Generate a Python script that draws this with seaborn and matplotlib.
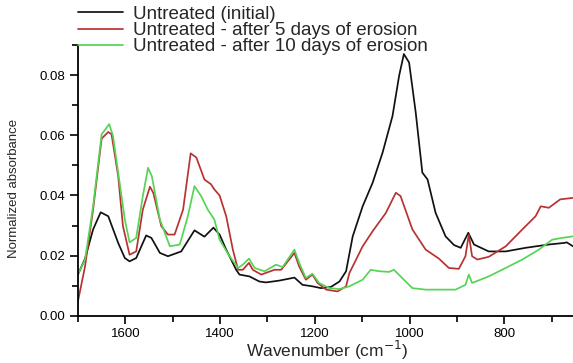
import numpy as np
import pandas as pd
import matplotlib
matplotlib.use("Agg")
import matplotlib.pyplot as plt
import seaborn as sns
from matplotlib.ticker import MultipleLocator
from matplotlib.lines import Line2D

series_names = ["Untreated (initial)",
                "Untreated - after 5 days of erosion",
                "Untreated - after 10 days of erosion"]

wn_initial = [1700, 1685, 1668, 1652, 1636, 1615, 1601, 1591, 1577, 1556, 1545, 1527, 1510,
              1482, 1454, 1433, 1414, 1401, 1387, 1366, 1359, 1338, 1317, 1303, 1275, 1243,
              1226, 1205, 1187, 1166, 1148, 1134, 1120, 1099, 1078, 1057, 1036, 1022, 1012,
              1001, 987, 973, 962, 945, 924, 906, 892, 876, 864, 833, 797, 755, 706, 675,
              668, 655]
ab_initial = [0.0137, 0.0190, 0.0287, 0.0344, 0.0331, 0.0242, 0.0192, 0.0181, 0.0192, 0.0267,
              0.0259, 0.0209, 0.0198, 0.0214, 0.0284, 0.0263, 0.0293, 0.0270, 0.0220, 0.0153,
              0.0137, 0.0131, 0.0114, 0.0111, 0.0117, 0.0127, 0.0103, 0.0098, 0.0092, 0.0096,
              0.0114, 0.0148, 0.0264, 0.0364, 0.0442, 0.0542, 0.0664, 0.0798, 0.0870, 0.0842,
              0.0676, 0.0476, 0.0453, 0.0342, 0.0264, 0.0235, 0.0226, 0.0276, 0.0237, 0.0214,
              0.0214, 0.0226, 0.0237, 0.0242, 0.0244, 0.0231]

wn_5days = [1700, 1685, 1668, 1650, 1636, 1629, 1615, 1605, 1591, 1577, 1563, 1548, 1541,
            1524, 1510, 1496, 1478, 1462, 1450, 1433, 1419, 1412, 1401, 1387, 1373, 1362,
            1352, 1339, 1331, 1313, 1285, 1271, 1243, 1233, 1219, 1205, 1194, 1176, 1152,
            1134, 1127, 1099, 1078, 1050, 1029, 1019, 994, 966, 938, 917, 896, 882, 875,
            868, 857, 833, 797, 762, 734, 723, 706, 682, 655]
ab_5days = [0.0048, 0.0164, 0.0353, 0.0589, 0.0611, 0.0603, 0.0464, 0.0298, 0.0203, 0.0214,
            0.0353, 0.0429, 0.0409, 0.0298, 0.0270, 0.0270, 0.0353, 0.0540, 0.0526, 0.0453,
            0.0437, 0.0420, 0.0400, 0.0331, 0.0220, 0.0153, 0.0153, 0.0176, 0.0153, 0.0137,
            0.0153, 0.0153, 0.0209, 0.0164, 0.0120, 0.0137, 0.0109, 0.0087, 0.0081, 0.0098,
            0.0142, 0.0231, 0.0281, 0.0342, 0.0409, 0.0398, 0.0287, 0.0220, 0.0190, 0.0159,
            0.0156, 0.0198, 0.0270, 0.0198, 0.0187, 0.0196, 0.0231, 0.0287, 0.0331, 0.0364,
            0.0359, 0.0387, 0.0392]

wn_10days = [1700, 1685, 1668, 1650, 1634, 1626, 1612, 1601, 1591, 1577, 1563, 1552, 1544,
             1527, 1506, 1485, 1468, 1454, 1440, 1426, 1412, 1401, 1380, 1362, 1352, 1339,
             1327, 1306, 1282, 1268, 1243, 1233, 1219, 1205, 1191, 1169, 1148, 1127, 1099,
             1082, 1064, 1043, 1033, 1019, 994, 966, 938, 903, 882, 875, 868, 833, 797,
             762, 727, 699, 678, 655]
ab_10days = [0.0137, 0.0187, 0.0364, 0.0603, 0.0637, 0.0598, 0.0442, 0.0320, 0.0244, 0.0259,
             0.0398, 0.0492, 0.0464, 0.0320, 0.0231, 0.0237, 0.0331, 0.0431, 0.0398, 0.0353,
             0.0320, 0.0253, 0.0198, 0.0159, 0.0170, 0.0190, 0.0159, 0.0148, 0.0170, 0.0162,
             0.0220, 0.0176, 0.0126, 0.0140, 0.0109, 0.0092, 0.0089, 0.0098, 0.0120, 0.0153,
             0.0148, 0.0146, 0.0153, 0.0131, 0.0092, 0.0087, 0.0087, 0.0087, 0.0103, 0.0137,
             0.0109, 0.0131, 0.0159, 0.0187, 0.0220, 0.0253, 0.0259, 0.0264]

x_ticks = [1600, 1400, 1200, 1000, 800]
y_ticks = [0.00, 0.02, 0.04, 0.06, 0.08]

frames = []
for name, wn, ab in zip(series_names, [wn_initial, wn_5days, wn_10days],
                        [ab_initial, ab_5days, ab_10days]):
    frames.append(pd.DataFrame({"wavenumber": wn, "absorbance": ab, "series": name}))
df = pd.concat(frames, ignore_index=True)

sns.set_style("ticks")
plt.rcParams["font.family"] = ["Liberation Sans", "DejaVu Sans"]

fig = plt.figure(figsize=(5.73, 3.63), dpi=100)
ax = fig.add_axes([0.136, 0.13, 0.864, 0.746])

palette = {series_names[0]: "#111111", series_names[1]: "#b83232", series_names[2]: "#55d455"}
sns.lineplot(data=df, x="wavenumber", y="absorbance", hue="series", palette=palette,
             estimator=None, sort=True, linewidth=1.25, ax=ax, legend=False)

ax.set_xlim(1700, 655)
ax.set_ylim(0, 0.09)
ax.set_xticks(x_ticks)
ax.set_xticklabels([str(v) for v in x_ticks])
ax.set_yticks(y_ticks)
ax.set_yticklabels([f"{v:.2f}" for v in y_ticks])
ax.xaxis.set_minor_locator(MultipleLocator(100))
ax.yaxis.set_minor_locator(MultipleLocator(0.01))
ax.tick_params(axis="both", which="major", direction="out", length=6, width=1.2, pad=3,
               labelsize=9.5, color="black", labelcolor="black")
ax.tick_params(axis="both", which="minor", direction="out", length=4, width=1.2, color="black")
for s in ["top", "right"]:
    ax.spines[s].set_visible(False)
for s in ["left", "bottom"]:
    ax.spines[s].set_linewidth(1.3)
    ax.spines[s].set_color("black")

ax.set_xlabel("Wavenumber (cm$^{-1}$)", fontsize=12.5)
ax.xaxis.set_label_coords(0.503, -0.085)
ax.set_ylabel("Normalized absorbance", fontsize=9.5)
ax.yaxis.set_label_coords(-0.118, 0.47)

handles = [Line2D([], [], color=palette[n], linewidth=1.25) for n in series_names]
fig.legend(handles, series_names, loc="upper left", bbox_to_anchor=(0.136, 0.984),
           frameon=False, fontsize=13.5, handlelength=2.4, handletextpad=0.55,
           labelspacing=-0.05, borderaxespad=0, borderpad=0)

fig.savefig("out.png", dpi=100)
